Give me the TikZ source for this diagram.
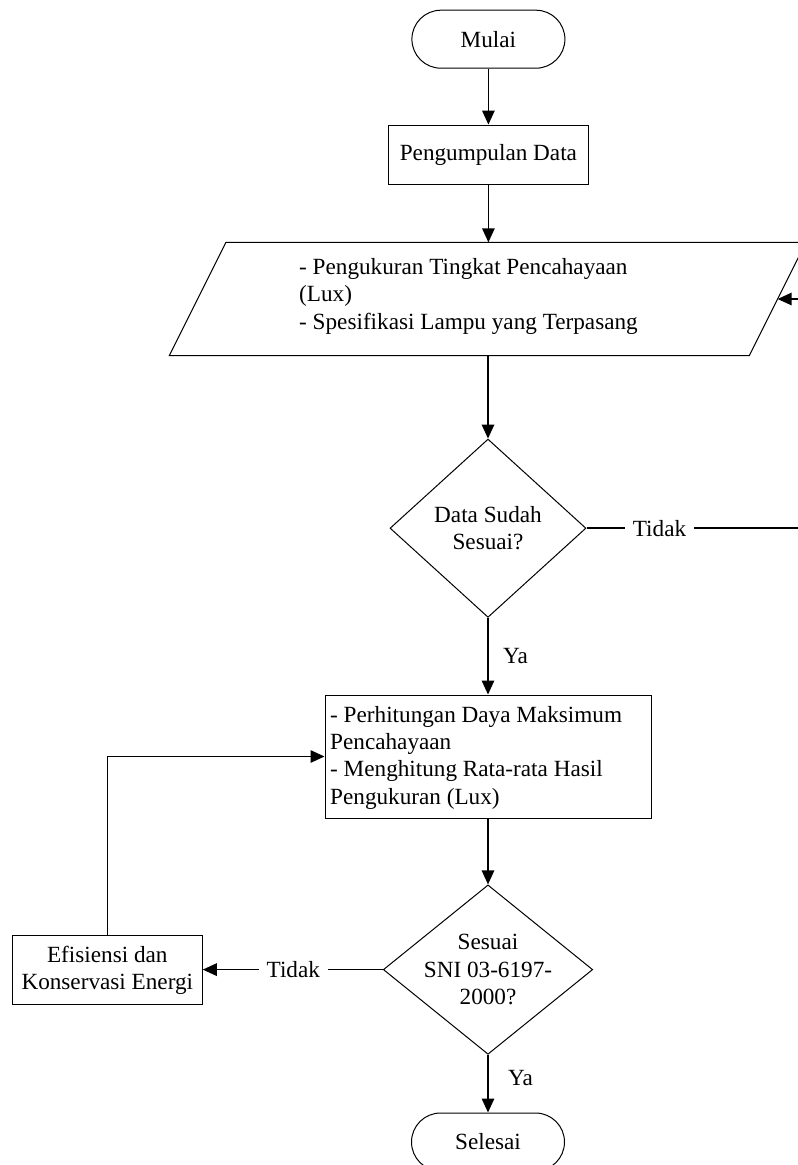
\documentclass[tikz,border=0pt]{standalone}
\usepackage{fontspec}
\setmainfont{Liberation Serif}
\usetikzlibrary{shapes.geometric,arrows.meta}
\begin{document}
\begin{tikzpicture}[x=1pt,y=-1pt,
  every node/.style={font=\fontsize{23.2}{27.3}\selectfont, inner sep=0pt},
  shapeline/.style={draw=black, line width=1pt},
  term/.style={shapeline, rounded corners=29pt, minimum width=153pt, minimum height=58pt},
  proc/.style={shapeline, rectangle},
  dec/.style={shapeline, diamond},
  conn/.style={line width=1.5pt, -{Triangle[length=14pt,width=12.5pt]}},
  plain/.style={line width=1.5pt},
  lbl/.style={inner xsep=8pt}
]
\useasboundingbox (0,0) rectangle (798,1165);
\clip (0,0) rectangle (798,1165);

% start
\node[term] (start) at (488.4,39.2) {Mulai};
\node[proc, minimum width=200.7pt, minimum height=59.3pt] (collect) at (488.4,154.7) {Pengumpulan Data};

% input parallelogram
\coordinate (pbl) at (169.3,355.7);
\coordinate (ptl) at (226,242.3);
\coordinate (ptr) at (806,242.3);
\coordinate (pbr) at (749.3,355.7);
\draw[shapeline] (pbl) -- (ptl) -- (ptr) -- (pbr) -- cycle;
\coordinate (ptop) at (488,242.3);
\coordinate (pbot) at (488,355.7);
\coordinate (pright) at (777.65,299);
\node[anchor=base west, align=left] (input) at (299,329) {- Pengukuran Tingkat Pencahayaan\\(Lux)\\- Spesifikasi Lampu yang Terpasang};

% decision 1
\node[dec, minimum width=196pt, minimum height=178.3pt] (check) at (488,528.2) {};
\node[align=center] (checktext) at (check) {Data Sudah\\Sesuai?};
\node[lbl] (no1) at (659.5,528.2) {Tidak};
\coordinate (loopR) at (820,528.2);

% process
\node[proc, minimum width=326pt, minimum height=123pt] (calc) at (488,756.5) {};
\node[anchor=base west, align=left] (calctext) at (330,804) {- Perhitungan Daya Maksimum\\Pencahayaan\\- Menghitung Rata-rata Hasil\\Pengukuran (Lux)};
\node[anchor=base west] (yes1) at (503,663) {Ya};

% decision 2
\node[dec, minimum width=209.4pt, minimum height=169.4pt] (sni) at (488,969.6) {};
\node[align=center] (snitext) at (sni) {Sesuai\\SNI 03-6197-\\2000?};
\node[proc, minimum width=190pt, minimum height=68.6pt, align=center] (eff) at (107.3,970) {Efisiensi dan\\Konservasi Energi};
\node[lbl, inner xsep=7.5pt] (no2) at (293.3,969.6) {Tidak};

% end
\node[term] (stop) at (488,1142) {Selesai};
\node[anchor=base west] (yes2) at (508,1085) {Ya};

% connectors
\draw[conn] (start.south) -- (collect.north);
\draw[conn] (collect.south) -- (collect.south |- ptop);
\draw[conn] (pbot) -- (check.north);
\draw[plain] (check.east) -- (no1.west);
\draw[conn] (no1.east) -- (loopR) |- (pright);
\draw[conn] (check.south) -- (calc.north);
\draw[conn] (calc.south) -- (sni.north);
\draw[plain] (sni.west) -- (no2.east);
\draw[conn] (no2.west) -- (no2.west -| eff.east);
\draw[conn] (eff.north) |- (calc.west);
\draw[conn] (sni.south) -- (stop.north);
\end{tikzpicture}
\end{document}
